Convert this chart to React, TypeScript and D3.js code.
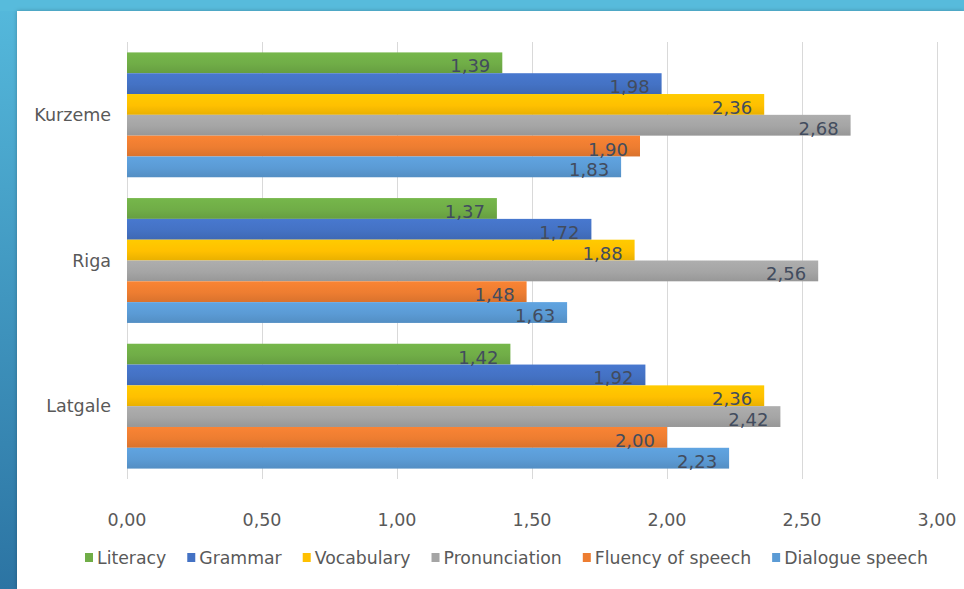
import React, { useEffect, useRef } from "react";
import * as d3 from "d3";

const regions = ["Kurzeme", "Riga", "Latgale"];
const seriesNames = ["Literacy", "Grammar", "Vocabulary", "Pronunciation", "Fluency of speech", "Dialogue speech"];
const literacy = [1.39, 1.37, 1.42];
const grammar = [1.98, 1.72, 1.92];
const vocabulary = [2.36, 1.88, 2.36];
const pronunciation = [2.68, 2.56, 2.42];
const fluency = [1.9, 1.48, 2.0];
const dialogue = [1.83, 1.63, 2.23];
const seriesColors = ["#70AD47", "#4472C4", "#FFC000", "#A5A5A5", "#ED7D31", "#5B9BD5"];
const xTicks = [0, 0.5, 1, 1.5, 2, 2.5, 3];

const W = 964;
const H = 589;

export default function App() {
  const ref = useRef<SVGSVGElement>(null);

  useEffect(() => {
    const svg = d3.select(ref.current);
    svg.selectAll("*").remove();
    const values = [literacy, grammar, vocabulary, pronunciation, fluency, dialogue];
    const fmt = (v: number) => v.toFixed(2).replace(".", ",");
    const font = "'DejaVu Sans', Verdana, sans-serif";

    const defs = svg.append("defs");
    const bg = defs.append("linearGradient").attr("id", "bgGrad").attr("x1", 0).attr("y1", 0).attr("x2", 0).attr("y2", 1);
    bg.append("stop").attr("offset", "0%").attr("stop-color", "#55b9dc");
    bg.append("stop").attr("offset", "100%").attr("stop-color", "#2c74a3");
    const shadow = defs.append("filter").attr("id", "shadow").attr("x", "-5%").attr("y", "-5%").attr("width", "110%").attr("height", "110%");
    shadow.append("feDropShadow").attr("dx", 0).attr("dy", 0).attr("stdDeviation", 2).attr("flood-color", "#000").attr("flood-opacity", 0.25);

    seriesColors.forEach((c, i) => {
      const g = defs.append("linearGradient").attr("id", `bar${i}`).attr("x1", 0).attr("y1", 0).attr("x2", 0).attr("y2", 1);
      const col = d3.color(c)!;
      g.append("stop").attr("offset", "0%").attr("stop-color", col.brighter(0.15).formatHex());
      g.append("stop").attr("offset", "55%").attr("stop-color", c);
      g.append("stop").attr("offset", "100%").attr("stop-color", col.darker(0.25).formatHex());
    });

    // background frame
    svg.append("rect").attr("x", 0).attr("y", 0).attr("width", W).attr("height", H).attr("fill", "url(#bgGrad)");
    svg.append("rect").attr("x", 0).attr("y", 0).attr("width", W).attr("height", 11).attr("fill", "#57bbdc");
    svg.append("rect").attr("x", 17).attr("y", 11).attr("width", W - 17).attr("height", H - 11).attr("fill", "#fff").attr("filter", "url(#shadow)");

    const left = 127, right = 937, top = 42, bottom = 479;
    const x = d3.scaleLinear().domain([0, 3]).range([left, right]);
    const y0 = d3.scaleBand().domain(regions).range([top, bottom]).paddingInner(1 / 7).paddingOuter(0.5 / 7);
    const y1 = d3.scaleBand().domain(seriesNames).range([0, y0.bandwidth()]);

    // gridlines
    svg.append("g").selectAll("line").data(xTicks).join("line")
      .attr("x1", (d) => x(d) + 0.5).attr("x2", (d) => x(d) + 0.5)
      .attr("y1", top).attr("y2", bottom)
      .attr("stroke", "#d9d9d9").attr("stroke-width", 1);

    // tick labels
    svg.append("g").selectAll("text").data(xTicks).join("text")
      .attr("x", (d) => x(d)).attr("y", 520)
      .attr("text-anchor", "middle").attr("dominant-baseline", "central")
      .attr("font-family", font).attr("font-size", 17.5).attr("fill", "#595959")
      .text((d) => fmt(d));

    // category labels
    svg.append("g").selectAll("text").data(regions).join("text")
      .attr("x", 111).attr("y", (d) => y0(d)! + y0.bandwidth() / 2)
      .attr("text-anchor", "end").attr("dominant-baseline", "central")
      .attr("font-family", font).attr("font-size", 17.5).attr("fill", "#595959")
      .text((d) => d);

    // bars
    const groups = svg.append("g").selectAll("g").data(regions).join("g")
      .attr("transform", (d) => `translate(0,${y0(d)})`);
    groups.each(function (region, ri) {
      const g = d3.select(this);
      const rows = seriesNames.map((s, si) => ({ s, si, v: values[si][ri] }));
      g.selectAll("rect").data(rows).join("rect")
        .attr("x", x(0)).attr("y", (d) => y1(d.s)!)
        .attr("width", (d) => x(d.v) - x(0)).attr("height", y1.bandwidth())
        .attr("fill", (d) => `url(#bar${d.si})`);
      g.selectAll("text").data(rows).join("text")
        .attr("x", (d) => x(d.v) - 12).attr("y", (d) => y1(d.s)! + y1.bandwidth() / 2 + 3)
        .attr("text-anchor", "end").attr("dominant-baseline", "central")
        .attr("font-family", font).attr("font-size", 18).attr("fill", "#424c5e")
        .text((d) => fmt(d.v));
    });

    // legend
    const legend = svg.append("g").attr("transform", "translate(85,558)");
    let cx = 0;
    seriesNames.forEach((name, i) => {
      legend.append("rect").attr("x", cx).attr("y", -5).attr("width", 8).attr("height", 9).attr("fill", seriesColors[i]);
      const t = legend.append("text").attr("x", cx + 12).attr("y", 0)
        .attr("dominant-baseline", "central")
        .attr("font-family", font).attr("font-size", 17.3).attr("fill", "#595959")
        .text(name);
      const w = (t.node() as SVGTextElement).getComputedTextLength();
      cx += 12 + w + 21;
    });
  }, []);

  return (
    <div style={{ position: "fixed", left: 0, top: 0, width: W, height: H }}>
      <svg ref={ref} width={W} height={H} style={{ display: "block" }} />
    </div>
  );
}
